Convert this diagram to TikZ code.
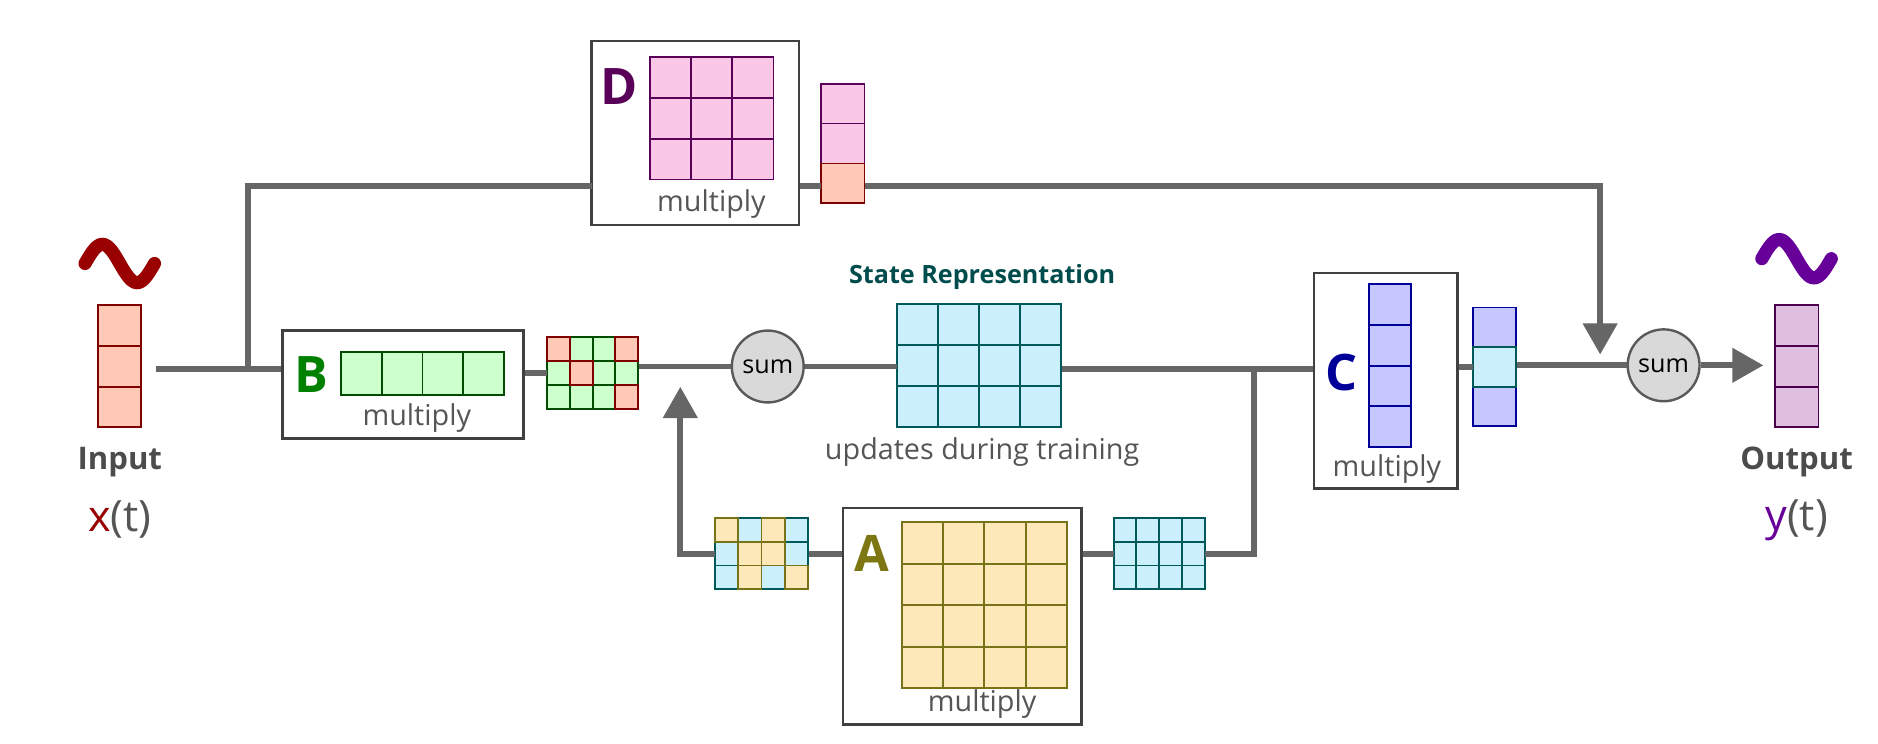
\documentclass[tikz,border=0pt]{standalone}
\usepackage{fontspec}
\setmainfont{Open Sans}
\usetikzlibrary{calc,arrows.meta,positioning}

\definecolor{wirec}{HTML}{666666}
\definecolor{textc}{HTML}{555555}
\tikzset{
	pinkc/.style={fill=magenta!22!white, draw=violet!70!black},
	greenc/.style={fill=green!20!white, draw=green!30!black},
	peachc/.style={fill=orange!20!pink!70!white, draw=red!50!black},
	cyanc/.style={fill=cyan!20!white, draw=teal!70!black},
	yellowc/.style={fill=yellow!35!orange!25!white, draw=olive!80!black},
	bluec/.style={fill=blue!22!white, draw=blue!60!black},
	purplec/.style={fill=violet!25!white, draw=violet!60!black},
	wire/.style={draw=wirec, line width=5pt},
	tip/.style={-{Triangle[length=26pt,width=28pt]}},
	opbox/.style={draw=black!75, line width=2pt, fill=white, inner sep=0pt},
	sumnode/.style={circle, draw=black!65, line width=2pt, fill=black!15, minimum size=60pt, inner sep=0pt, font=\fontsize{21}{22}\selectfont},
	lbl/.style={text=textc, font=\fontsize{24}{26}\selectfont},
	letter/.style={font=\fontsize{42}{44}\selectfont\bfseries},
	wave/.style={line width=11pt, line cap=round},
}
% name, x, y, cols, rows, cell w, cell h, style
\newcommand{\grid}[8]{%
	\node[inner sep=0pt, minimum width={#4*#6}, minimum height={#5*#7}] (#1) at (#2,#3) {};
	\foreach \c in {1,...,#4}{\foreach \r in {1,...,#5}{%
		\draw[#8, line width=1.5pt] ($(#1.north west)+({(\c-1)*#6},{(\r-1)*#7})$) rectangle ++(#6,#7);}}%
}

\begin{document}
\begin{tikzpicture}[x=1pt,y=-1pt]
	\useasboundingbox (0,0) rectangle (1568,621);
	
	%operator boxes
	\node[opbox, minimum width=201, minimum height=90]  (bbox) at (336.5,321) {};
	\node[opbox, minimum width=173, minimum height=154] (dbox) at (580.5,111) {};
	\node[opbox, minimum width=199, minimum height=181] (abox) at (803.5,514.5) {};
	\node[opbox, minimum width=120, minimum height=180] (cbox) at (1157,318) {};
	
	%input / output
	\grid{vin}{100}{306}{1}{3}{36}{34}{peachc}
	\grid{vout}{1500.5}{306}{1}{3}{36}{34}{purplec}
	\draw[wave, red!60!black] plot[domain=-180:180, samples=40] ({100+\x/180*29},{220+16*sin(\x)});
	\draw[wave, violet!80!blue] plot[domain=-180:180, samples=40] ({1500+\x/180*29},{216+16*sin(\x)});
	\node[text=black!70, font=\fontsize{26}{28}\selectfont\bfseries] at (100,386) {Input};
	\node[text=black!70, font=\fontsize{26}{28}\selectfont\bfseries] at (1500,386) {Output};
	\node[text=textc, font=\fontsize{36}{38}\selectfont] at (100,434) {\textcolor{red!60!black}{x}(t)};
	\node[text=textc, font=\fontsize{36}{38}\selectfont] at (1500,434) {\textcolor{violet!80!blue}{y}(t)};
	
	%B
	\grid{bmat}{353}{312}{4}{1}{34}{36}{greenc}
	\node[letter, text=green!50!black] at (260,313) {B};
	\node[lbl] at (348,349) {multiply};
	\grid{bout}{495}{311.5}{4}{3}{19}{20}{greenc}
	\foreach \c/\r in {1/1,4/1,2/2,4/3}
		\draw[peachc, line width=1.5pt] ($(bout.north west)+({(\c-1)*19},{(\r-1)*20})$) rectangle ++(19,20);
	
	%D
	\grid{dmat}{594.5}{99}{3}{3}{34.3}{34}{pinkc}
	\node[letter, text=violet!70!black] at (517,72) {D};
	\node[lbl] at (594,170) {multiply};
	\grid{dout}{704}{120}{1}{3}{36}{33.3}{pinkc}
	\draw[peachc, line width=1.5pt] ($(dout.north west)+(0,66.6)$) rectangle ++(36,33.3);
	
	%state
	\node[sumnode] (sum1) at (641,306) {sum};
	\grid{state}{817.5}{305.5}{4}{3}{34.3}{34.3}{cyanc}
	\node[text=teal!60!black, font=\fontsize{21}{23}\selectfont\bfseries] at (820,231) {State Representation};
	\node[lbl] at (820,377) {updates during training};
	
	%A
	\grid{amat}{822}{505.5}{4}{4}{34.5}{34.7}{yellowc}
	\node[letter, text=olive!85!black] at (728,462) {A};
	\node[lbl] at (820,588) {multiply};
	\grid{aout}{968}{462.5}{4}{3}{19}{19.7}{cyanc}
	\grid{ain}{636}{462.5}{4}{3}{19.5}{19.7}{cyanc}
	\foreach \c/\r in {1/1,3/1,2/2,3/2,2/3,4/3}
		\draw[yellowc, line width=1.5pt] ($(ain.north west)+({(\c-1)*19.5},{(\r-1)*19.7})$) rectangle ++(19.5,19.7);
	
	%C
	\grid{cmat}{1160.5}{305.5}{1}{4}{35}{34}{bluec}
	\node[letter, text=blue!60!black] at (1120,311) {C};
	\node[lbl] at (1158,392) {multiply};
	\grid{cout}{1248}{306.5}{1}{3}{36}{33}{bluec}
	\draw[cyanc, line width=1.5pt] ($(cout.north west)+(0,33)$) rectangle ++(36,33);
	\node[sumnode] (sum2) at (1389,305) {sum};
	
	%junctions
	\coordinate (split) at (207,308);
	\coordinate (dline) at (494,155);
	\coordinate (dtip) at (1336,296);
	\coordinate (split2) at (1047,308);
	\coordinate (atip) at (568,323);
	
	%connectors
	\draw[wire, shorten <=12pt] (vin.east|-split) -- (bbox.west|-split);
	\draw[wire] (split) |- (dline);
	\draw[wire] (bbox.east|-bout) -- (bout.west);
	\draw[wire] (bout.east|-sum1) -- (sum1.west);
	\draw[wire] (sum1.east) -- (state.west|-sum1);
	\draw[wire] (state.east|-split2) -- (cbox.west|-split2);
	\draw[wire] (split2) |- (aout.east);
	\draw[wire] (aout.west) -- (abox.east|-aout);
	\draw[wire] (abox.west|-ain) -- (ain.east);
	\draw[wire, tip] (ain.west) -| (atip);
	\draw[wire] (dbox.east|-dline) -- (dout.west|-dline);
	\draw[wire, tip] (dout.east|-dline) -| (dtip);
	\draw[wire] (cbox.east|-cout) -- (cout.west);
	\draw[wire] (cout.east|-sum2) -- (sum2.west);
	\draw[wire, tip, shorten >=10pt] (sum2.east) -- (vout.west|-sum2);
\end{tikzpicture}
\end{document}
